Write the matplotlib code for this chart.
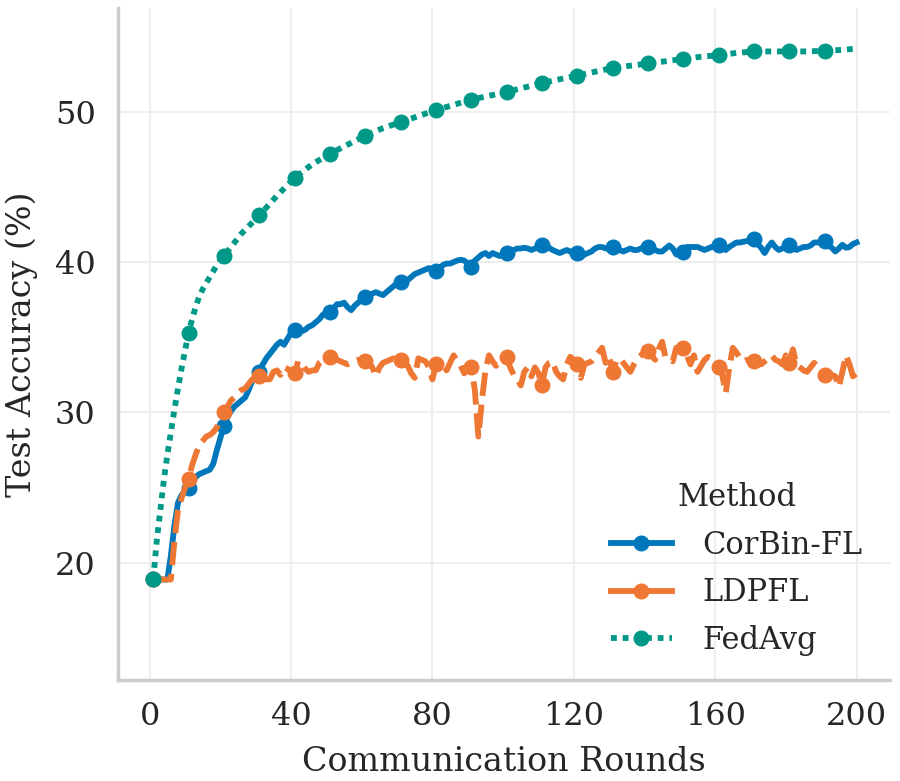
#!/usr/bin/env python3
"""Test accuracy vs communication rounds: CorBin-FL / LDPFL / FedAvg."""
import matplotlib
matplotlib.use("Agg")
import matplotlib.pyplot as plt
from matplotlib.lines import Line2D
import numpy as np

FONT_TICK = 23
FONT_LABEL = 24
FONT_LEGEND = 22

COLOR_CORBIN = "#0077BB"
COLOR_LDPFL = "#EE7733"
COLOR_FEDAVG = "#009988"

# rounds 1..200, one value per round
ROUNDS = list(range(1, 201))

CORBIN_ACC = [
    18.9, 18.9, 18.9, 18.9, 18.9, 20.5, 22.5, 24.0, 24.5, 24.8,
    25.0, 25.4, 25.7, 25.9, 26.0, 26.1, 26.2, 26.6, 27.5, 28.3,
    29.1, 29.7, 30.1, 30.4, 30.6, 30.8, 31.0, 31.5, 32.1, 32.4,
    32.7, 33.2, 33.6, 33.9, 34.2, 34.5, 34.7, 34.5, 34.9, 35.3,
    35.5, 35.4, 35.4, 35.5, 35.7, 35.8, 36.0, 36.2, 36.5, 36.6,
    36.7, 36.9, 37.2, 37.2, 37.3, 37.0, 36.8, 37.1, 37.3, 37.5,
    37.7, 37.8, 37.9, 38.0, 37.9, 37.8, 38.0, 38.2, 38.4, 38.6,
    38.7, 38.6, 38.8, 39.0, 39.2, 39.3, 39.4, 39.5, 39.6, 39.5,
    39.4, 39.6, 39.8, 39.9, 39.9, 40.0, 40.1, 40.15, 40.1, 39.9,
    39.7, 40.1, 40.3, 40.5, 40.6, 40.4, 40.6, 40.5, 40.4, 40.5,
    40.6, 40.7, 40.8, 40.9, 40.9, 40.95, 40.9, 40.8, 40.9, 41.0,
    41.1, 41.0, 40.95, 40.8, 40.7, 40.6, 40.7, 40.8, 40.7, 40.6,
    40.6, 40.3, 40.5, 40.6, 40.7, 40.9, 41.0, 41.0, 40.9, 41.0,
    41.0, 40.9, 40.8, 40.7, 40.8, 40.9, 40.8, 40.8, 40.9, 41.0,
    41.0, 40.9, 40.8, 40.7, 40.7, 40.9, 41.1, 40.9, 40.5, 40.6,
    40.7, 41.0, 41.0, 41.0, 41.0, 40.9, 40.8, 40.9, 41.0, 41.1,
    41.15, 41.0, 40.8, 41.0, 41.15, 41.3, 41.3, 41.35, 41.4, 41.45,
    41.5, 41.2, 40.95, 40.6, 41.0, 41.3, 41.0, 40.8, 40.9, 41.0,
    41.15, 41.0, 40.8, 40.9, 41.0, 41.0, 41.1, 41.3, 41.3, 41.35,
    41.4, 41.1, 40.95, 40.7, 40.9, 41.15, 40.95, 41.0, 41.2, 41.3,
]

LDPFL_ACC = [
    18.9, 18.9, 18.9, 18.9, 18.9, 18.9, 21.5, 23.5, 24.3, 25.0,
    25.6, 26.5, 27.2, 27.8, 28.1, 28.4, 28.5, 28.7, 29.0, 29.7,
    30.0, 30.4, 30.8, 31.0, 31.3, 31.5, 31.6, 31.9, 32.2, 32.3,
    32.4, 32.3, 32.2, 32.2, 32.7, 32.8, 32.5, 33.0, 32.9, 32.7,
    32.6, 33.4, 33.3, 32.9, 32.7, 32.8, 32.8, 33.3, 33.5, 33.6,
    33.7, 33.6, 33.5, 33.4, 33.3, 33.2, 33.3, 33.4, 33.5, 33.4,
    33.4, 33.3, 33.0, 32.4, 33.0, 33.3, 33.4, 33.5, 33.6, 33.5,
    33.5, 33.4, 33.1, 32.6, 32.3, 33.6, 33.5, 33.4, 33.0, 32.2,
    33.2, 33.3, 33.2, 32.8, 33.3, 33.8, 33.4, 33.1, 32.6, 32.9,
    33.0, 31.5, 28.4, 30.8, 32.8, 33.8, 33.4, 33.1, 33.5, 33.6,
    33.7, 33.0, 32.5, 32.2, 31.8, 32.7, 33.0, 32.4, 33.0, 32.6,
    31.8, 33.0, 33.3, 33.4, 32.7, 32.4, 32.2, 33.2, 33.7, 33.5,
    33.2, 32.3, 33.2, 33.3, 33.4, 33.7, 34.0, 34.3, 33.3, 33.7,
    32.7, 33.4, 33.6, 33.3, 33.0, 32.7, 33.2, 33.6, 33.8, 34.0,
    34.1, 33.8, 33.5, 34.2, 34.7, 33.6, 33.5, 33.4, 34.3, 34.3,
    34.3, 33.8, 33.2, 33.8, 32.7, 33.1, 33.5, 33.7, 33.6, 33.3,
    33.0, 32.5, 31.3, 33.0, 34.3, 34.0, 33.6, 33.4, 33.5, 33.4,
    33.4, 33.3, 33.2, 33.4, 33.6, 33.8, 33.5, 33.4, 33.2, 33.8,
    33.3, 34.2, 33.2, 33.0, 32.8, 32.7, 33.0, 33.3, 33.0, 32.8,
    32.5, 32.7, 32.5, 32.4, 31.7, 32.7, 33.8, 33.2, 32.4, 32.6,
]

# FedAvg is smooth: dense early, every 5 rounds afterwards
FEDAVG_ROUNDS = list(range(1, 22)) + list(range(26, 200, 5)) + [200]
FEDAVG_ACC = [
    18.9, 21.5, 23.5, 25.5, 27.2, 28.7, 30.2, 31.6, 32.9, 34.1,
    35.3, 36.2, 37.0, 37.7, 38.2, 38.6, 39.0, 39.4, 39.8, 40.1,
    40.4,
    41.9, 43.1, 44.4, 45.6, 46.5, 47.2, 47.8, 48.4, 48.9, 49.3,
    49.7, 50.1, 50.45, 50.8, 51.05, 51.3, 51.6, 51.9, 52.15, 52.4,
    52.65, 52.9, 53.05, 53.2, 53.35, 53.5, 53.65, 53.75, 53.9, 54.0,
    54.0, 54.0, 54.0, 54.05, 54.1, 54.2,
]

MARKER_ROUNDS = list(range(1, 200, 10))

X_TICKS = [0, 40, 80, 120, 160, 200]
Y_TICKS = [20, 30, 40, 50]

RC = {
    "font.family": "serif",
    "font.serif": ["DejaVu Serif"],
    "text.color": "#262626",
    "axes.labelcolor": "#262626",
    "xtick.color": "#262626",
    "ytick.color": "#262626",
    "axes.facecolor": "white",
    "figure.facecolor": "white",
}


def mark_idx(rounds):
    return [i for i, r in enumerate(rounds) if r in MARKER_ROUNDS]


def main() -> None:
    with plt.rc_context(RC):
        fig = plt.figure(figsize=(9.0, 7.81), dpi=100)
        ax = fig.add_axes([0.131, 0.129, 0.858, 0.861])

        lw = 4.2
        ms = 10.5
        ax.plot(ROUNDS, CORBIN_ACC, color=COLOR_CORBIN, lw=lw, marker="o", ms=ms,
                markevery=mark_idx(ROUNDS), solid_joinstyle="round", zorder=3)
        ax.plot(ROUNDS, LDPFL_ACC, color=COLOR_LDPFL, lw=lw, marker="o", ms=ms,
                markevery=mark_idx(ROUNDS), dashes=(4, 1.5), zorder=4)
        ax.plot(FEDAVG_ROUNDS, FEDAVG_ACC, color=COLOR_FEDAVG, lw=lw, marker="o", ms=ms,
                markevery=mark_idx(FEDAVG_ROUNDS), dashes=(1, 1), zorder=5)

        ax.set_xlim(-9, 209.5)
        ax.set_ylim(12.2, 56.9)
        ax.set_xticks(X_TICKS)
        ax.set_yticks(Y_TICKS)
        ax.tick_params(axis="both", length=0, labelsize=FONT_TICK)
        ax.tick_params(axis="x", pad=15)
        ax.tick_params(axis="y", pad=16)

        ax.set_axisbelow(True)
        ax.grid(True, color="#eeeeee", linewidth=1.5)
        for side in ("top", "right"):
            ax.spines[side].set_visible(False)
        for side in ("left", "bottom"):
            ax.spines[side].set_color("#cccccc")
            ax.spines[side].set_linewidth(2.5)

        ax.set_xlabel("Communication Rounds", fontsize=FONT_LABEL, labelpad=10)
        ax.set_ylabel("Test Accuracy (%)", fontsize=FONT_LABEL, labelpad=12)

        handles = [
            Line2D([], [], color=COLOR_CORBIN, lw=lw, marker="o", ms=ms),
            Line2D([], [], color=COLOR_LDPFL, lw=lw, marker="o", ms=ms),
            Line2D([], [], color=COLOR_FEDAVG, lw=lw, marker="o", ms=ms, dashes=(1, 1)),
        ]
        ax.legend(handles, ["CorBin-FL", "LDPFL", "FedAvg"], title="Method",
                  fontsize=FONT_LEGEND, title_fontsize=FONT_LEGEND,
                  loc="lower right", bbox_to_anchor=(1.0, -0.005), frameon=False,
                  handlelength=2.0, handletextpad=1.0, labelspacing=0.55)

        fig.savefig("out.png", dpi=100)
        plt.close(fig)


if __name__ == "__main__":
    main()
